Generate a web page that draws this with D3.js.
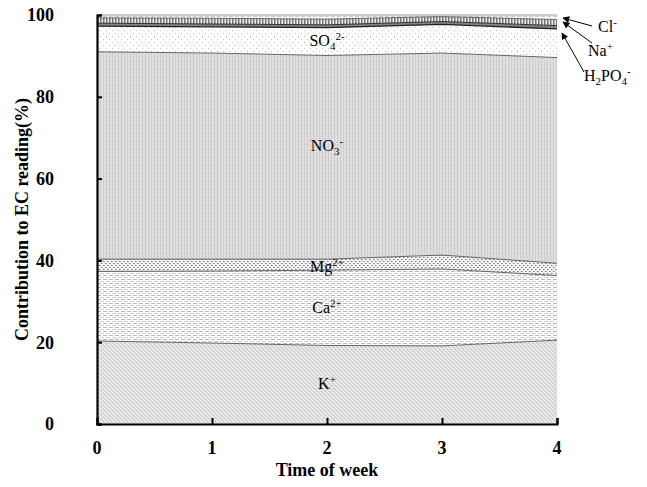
<!DOCTYPE html>
<html>
<head>
<meta charset="utf-8">
<script src="https://cdn.jsdelivr.net/npm/d3@7"></script>
<style>
  body { margin: 0; background: #fff; }
  svg { display: block; font-family: "Liberation Serif", "Times New Roman", serif; }
</style>
</head>
<body>
<div id="chart"></div>
<script>
// weeks on x axis
const weeks = [0, 1, 2, 3, 4];

// contribution of each ion to EC reading (%)
const kPlus   = [20.3, 19.8, 19.2, 19.1, 20.5];
const caPlus  = [17.0, 17.6, 18.4, 18.8, 15.8];
const mgPlus  = [3.0, 2.9, 2.7, 3.4, 3.0];
const no3     = [50.7, 50.4, 49.8, 49.4, 50.3];
const so4     = [6.3, 6.4, 6.8, 7.0, 7.0];
const h2po4   = [0.7, 0.7, 0.7, 0.7, 0.8];
const naPlus  = [1.3, 1.4, 1.4, 1.2, 1.5];
const clMinus = [0.7, 0.8, 1.0, 0.4, 1.1];

const yTicks = [0, 20, 40, 60, 80, 100];
const xTicks = [0, 1, 2, 3, 4];

const ions = ["K", "Ca", "Mg", "NO3", "SO4", "H2PO4", "Na", "Cl"];
const series = { K: kPlus, Ca: caPlus, Mg: mgPlus, NO3: no3, SO4: so4, H2PO4: h2po4, Na: naPlus, Cl: clMinus };

const table = weeks.map((w, i) => {
    const row = { week: w };
    ions.forEach(k => row[k] = series[k][i]);
    return row;
});

const W = 647, H = 487;
const margin = { top: 15, right: 90, bottom: 63, left: 97 };
const width = W - margin.left - margin.right;
const height = H - margin.top - margin.bottom;

const svg = d3.select("#chart").append("svg")
    .attr("width", W)
    .attr("height", H);

// fill textures
const defs = svg.append("defs");
function pattern(id, w, h, bg, marks) {
    const p = defs.append("pattern")
        .attr("id", id)
        .attr("patternUnits", "userSpaceOnUse")
        .attr("width", w)
        .attr("height", h);
    p.append("rect").attr("width", w).attr("height", h).attr("fill", bg);
    marks.forEach(m => p.append("rect")
        .attr("x", m[0]).attr("y", m[1])
        .attr("width", m[2]).attr("height", m[3])
        .attr("fill", m[4]));
}
pattern("pK", 4, 4, "#e8e8e8", [[0, 0, 1, 1, "#b4b4b4"], [2, 2, 1, 1, "#b4b4b4"], [1, 1, 1, 1, "#d0d0d0"], [3, 3, 1, 1, "#d0d0d0"]]);
pattern("pCa", 6, 4, "#ffffff", [[0, 0, 4, 1, "#b8b8b8"], [3, 2, 4, 1, "#cfcfcf"], [0, 2, 1, 1, "#cfcfcf"]]);
pattern("pMg", 4, 4, "#f2f2f2", [[0, 0, 1, 1, "#7a7a7a"], [2, 2, 1, 1, "#7a7a7a"], [1, 0, 1, 1, "#bbbbbb"], [3, 2, 1, 1, "#bbbbbb"]]);
pattern("pNO3", 3, 4, "#e2e2e2", [[0, 0, 1, 4, "#cdcdcd"], [1, 1, 1, 1, "#d4d4d4"], [2, 3, 1, 1, "#d4d4d4"]]);
pattern("pSO4", 6, 6, "#ffffff", [[0, 0, 1, 1, "#c0c0c0"], [3, 3, 1, 1, "#c0c0c0"]]);
pattern("pH2PO4", 4, 4, "#8a8a8a", [[0, 0, 2, 4, "#7c7c7c"]]);
pattern("pNa", 3, 4, "#ececec", [[0, 0, 1, 4, "#777777"], [1, 0, 1, 4, "#b0b0b0"]]);
pattern("pCl", 6, 3, "#ffffff", [[0, 1, 4, 1, "#c8c8c8"]]);

const g = svg.append("g").attr("transform", `translate(${margin.left},${margin.top})`);

const x = d3.scaleLinear().domain([0, 4]).range([0, width]);
const y = d3.scaleLinear().domain([0, 100]).range([height, 0]);

const stack = d3.stack().keys(ions);
const layers = stack(table);

const area = d3.area()
    .x(d => x(d.data.week))
    .y0(d => y(d[0]))
    .y1(d => y(Math.min(100, d[1])));

g.selectAll(".layer")
    .data(layers)
    .join("path")
    .attr("class", "layer")
    .attr("d", area)
    .attr("fill", d => `url(#p${d.key})`);

// boundary lines on top of each layer
const topLine = d3.line()
    .x(d => x(d.data.week))
    .y(d => y(Math.min(100, d[1])));

g.selectAll(".edge")
    .data(layers.slice(0, -1))
    .join("path")
    .attr("class", "edge")
    .attr("d", topLine)
    .attr("fill", "none")
    .attr("stroke", d => (d.key === "SO4" || d.key === "H2PO4") ? "#222" : "#555")
    .attr("stroke-width", d => d.key === "SO4" ? 1.3 : 0.9);

// top frame
g.append("line")
    .attr("x1", 0).attr("x2", width)
    .attr("y1", y(100)).attr("y2", y(100))
    .attr("stroke", "#999").attr("stroke-width", 1);

// axes with inward ticks
const yAxis = g.append("g")
    .call(d3.axisRight(y).tickValues(yTicks).tickSize(5).tickFormat(""));
yAxis.select(".domain").attr("stroke", "#000").attr("stroke-width", 2.2);
yAxis.selectAll(".tick line").attr("stroke", "#000").attr("stroke-width", 2);

const xAxis = g.append("g")
    .attr("transform", `translate(0,${height})`)
    .call(d3.axisTop(x).tickValues(xTicks).tickSize(6).tickFormat(""));
xAxis.select(".domain").attr("stroke", "#000").attr("stroke-width", 2.2);
xAxis.selectAll(".tick line").attr("stroke", "#000").attr("stroke-width", 2);

// tick labels
g.selectAll(".ylab")
    .data(yTicks)
    .join("text")
    .attr("class", "ylab")
    .attr("x", -43)
    .attr("y", d => y(d))
    .attr("dy", "0.35em")
    .attr("text-anchor", "end")
    .attr("font-size", 18)
    .attr("font-weight", "bold")
    .text(d => d);

g.selectAll(".xlab")
    .data(xTicks)
    .join("text")
    .attr("class", "xlab")
    .attr("x", d => x(d))
    .attr("y", height + 30)
    .attr("text-anchor", "middle")
    .attr("font-size", 18)
    .attr("font-weight", "bold")
    .text(d => d);

// axis titles
svg.append("text")
    .attr("x", margin.left + width / 2)
    .attr("y", 476)
    .attr("text-anchor", "middle")
    .attr("font-size", 18)
    .attr("font-weight", "bold")
    .text("Time of week");

svg.append("text")
    .attr("transform", `translate(28,${margin.top + height / 2}) rotate(-90)`)
    .attr("text-anchor", "middle")
    .attr("font-size", 18)
    .attr("font-weight", "bold")
    .text("Contribution to EC reading(%)");

// ion labels: each part is [text, offset from baseline] (negative = raised)
function ionLabel(parent, px, py, parts, anchor) {
    const t = parent.append("text")
        .attr("x", px).attr("y", py)
        .attr("text-anchor", anchor || "middle")
        .attr("font-size", 16);
    let cur = 0;
    parts.forEach(p => {
        const off = p[1] || 0;
        t.append("tspan")
            .attr("dy", off - cur)
            .attr("font-size", off === 0 ? 16 : 11)
            .text(p[0]);
        cur = off;
    });
    return t;
}

ionLabel(g, x(2), 31, [["SO"], ["4", 4], ["2-", -6]]);
ionLabel(g, x(2), 136, [["NO"], ["3", 4], ["-", -6]]);
ionLabel(g, x(2), 257, [["Mg"], ["2+", -6]]);
ionLabel(g, x(2), 298, [["Ca"], ["2+", -6]]);
ionLabel(g, x(2), 374, [["K"], ["+", -6]]);

// right-hand labels with arrows
defs.append("marker")
    .attr("id", "arrow")
    .attr("viewBox", "0 0 10 10")
    .attr("refX", 9).attr("refY", 5)
    .attr("markerWidth", 7).attr("markerHeight", 7)
    .attr("orient", "auto")
    .append("path")
    .attr("d", "M0,0 L10,5 L0,10 Z")
    .attr("fill", "#000");

const callouts = [
    { from: [592, 26], to: [563, 18] },
    { from: [592, 43], to: [563, 22] },
    { from: [584, 72], to: [562, 33] }
];
svg.selectAll(".callout")
    .data(callouts)
    .join("line")
    .attr("class", "callout")
    .attr("x1", d => d.from[0]).attr("y1", d => d.from[1])
    .attr("x2", d => d.to[0]).attr("y2", d => d.to[1])
    .attr("stroke", "#000").attr("stroke-width", 1)
    .attr("marker-end", "url(#arrow)");

ionLabel(svg, 598, 32, [["Cl"], ["-", -6]], "start");
ionLabel(svg, 588, 56, [["Na"], ["+", -6]], "start");
ionLabel(svg, 584, 81, [["H"], ["2", 4], ["PO"], ["4", 4], ["-", -6]], "start");
</script>
</body>
</html>
